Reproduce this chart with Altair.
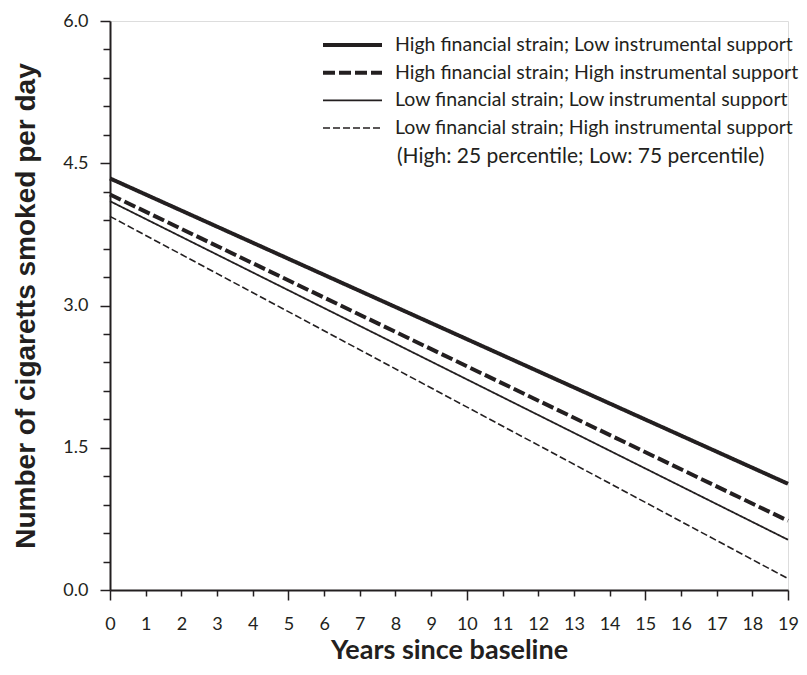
import altair as alt
import pandas as pd

series = [
    "High financial strain; Low instrumental support",
    "High financial strain; High instrumental support",
    "Low financial strain; Low instrumental support",
    "Low financial strain; High instrumental support",
]
years = [0, 19]
start_vals = [4.34, 4.17, 4.10, 3.94]
end_vals = [1.12, 0.73, 0.53, 0.12]
stroke_widths = [4, 4, 1.8, 1.6]
stroke_dashes = [[1, 0], [12, 4], [1, 0], [7, 3]]
note = "(High: 25 percentile; Low: 75 percentile)"

y_ticks = [round(0.3 * i, 1) for i in range(21)]
x_ticks = list(range(20))

rows = []
for s, a, b in zip(series, start_vals, end_vals):
    rows.append({"series": s, "year": years[0], "value": a})
    rows.append({"series": s, "year": years[1], "value": b})
df = pd.DataFrame(rows)

leg = pd.DataFrame({"series": series, "row": list(range(len(series)))})

INK = "#231f20"
LABEL_FONT = "Lato"

width_scale = alt.Scale(type="ordinal", domain=series, range=stroke_widths)
dash_scale = alt.Scale(domain=series, range=stroke_dashes)

x_major = "datum.value % 5 === 0 || datum.value === 19"
y_major = "abs(datum.value/1.5 - round(datum.value/1.5)) < 0.001"

lines = alt.Chart(df).mark_line(color=INK, strokeCap="butt").encode(
    x=alt.X("year:Q", scale=alt.Scale(domain=[0, 19], nice=False),
            axis=alt.Axis(values=x_ticks, title="Years since baseline",
                          titleFont=LABEL_FONT, titleFontSize=27, titleFontWeight="bold",
                          titleColor=INK, titlePadding=4,
                          labelFont=LABEL_FONT, labelFontSize=18, labelColor=INK,
                          labelPadding={"condition": {"test": x_major, "value": 15}, "value": 19},
                          labelFlush=False,
                          tickSize={"condition": {"test": x_major, "value": 10}, "value": 6},
                          tickColor=INK, tickWidth=1.5, domainColor=INK, domainWidth=2,
                          grid=False)),
    y=alt.Y("value:Q", scale=alt.Scale(domain=[0, 6], nice=False),
            axis=alt.Axis(values=y_ticks, title="Number of cigaretts smoked per day",
                          titleFont="Liberation Sans", titleFontSize=28, titleFontWeight="bold",
                          titleColor=INK, titlePadding=22,
                          labelExpr=f"{y_major} ? format(datum.value, '.1f') : ''",
                          labelFont=LABEL_FONT, labelFontSize=18, labelColor=INK,
                          labelPadding=12,
                          tickSize={"condition": {"test": y_major, "value": 10}, "value": 7},
                          tickColor=INK, tickWidth=1.5, domainColor=INK, domainWidth=2,
                          grid=False)),
    strokeWidth=alt.StrokeWidth("series:N", scale=width_scale, legend=None),
    strokeDash=alt.StrokeDash("series:N", scale=dash_scale, legend=None),
    detail="series:N",
)

leg_y = alt.Y("row:Q", axis=None, scale=alt.Scale(domain=[0, 3], range=[24, 107]))

leg_lines = alt.Chart(leg).mark_rule(color=INK, strokeCap="butt").encode(
    x=alt.value(213),
    x2=alt.value(272),
    y=leg_y,
    strokeWidth=alt.StrokeWidth("series:N", scale=width_scale, legend=None),
    strokeDash=alt.StrokeDash("series:N", scale=dash_scale, legend=None),
)

leg_text = alt.Chart(leg).mark_text(align="left", baseline="middle", font=LABEL_FONT,
                                    fontSize=19.5, color=INK).encode(
    x=alt.value(285),
    y=leg_y,
    text="series:N",
)

note_text = alt.Chart(pd.DataFrame({"t": [note]})).mark_text(
    align="left", baseline="middle", font=LABEL_FONT, fontSize=21, color=INK
).encode(x=alt.value(287), y=alt.value(136), text="t:N")

chart = alt.layer(lines, leg_lines, leg_text, note_text).resolve_scale(
    y="independent"
).properties(
    width=678, height=569,
    autosize=alt.AutoSizeParams(type="none"),
    padding={"left": 102, "top": 13, "right": 11, "bottom": 77},
).configure_view(stroke=None).configure(background="white")

chart.save("out.html", embed_options={"renderer": "svg", "actions": False})
